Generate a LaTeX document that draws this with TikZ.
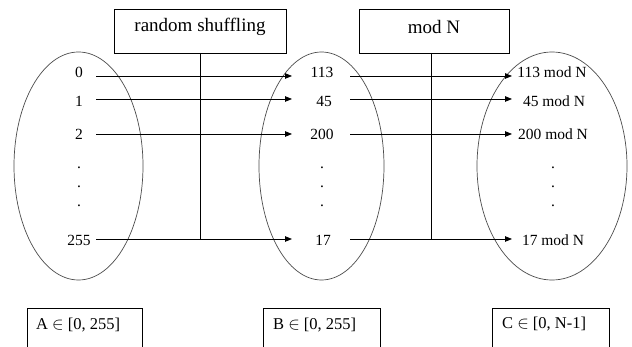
\documentclass[tikz,border=0pt]{standalone}
\usepackage{fontspec}
\setmainfont{Liberation Serif}
\usetikzlibrary{arrows.meta}
\begin{document}
\begin{tikzpicture}[x=1pt,y=-1pt,
  lbl/.style={inner sep=0pt,font=\fontsize{15.5}{18}\selectfont},
  boxtxt/.style={font=\fontsize{19}{22}\selectfont},
  setcirc/.style={draw=black!70,line width=0.7pt},
  opbox/.style={draw,line width=0.8pt},
  arr/.style={-{Triangle[length=7pt,width=5.5pt]},line width=0.8pt},
  vline/.style={line width=0.8pt}]
\useasboundingbox (0,0) rectangle (632,347);
\clip (0,0) rectangle (632,347);
\fill[white] (0,0) rectangle (632,347);
% sets
\draw[setcirc] (78.5,166) ellipse [x radius=64.5, y radius=114];
\draw[setcirc] (321.5,166) ellipse [x radius=62.5, y radius=114];
\draw[setcirc] (552,166) ellipse [x radius=75, y radius=114];
% operation boxes
\draw[opbox] (114,9) rectangle (286,53);
\node[boxtxt] (rs) at (200,27) {random shuffling};
\draw[opbox] (359,9) rectangle (509,53);
\node[boxtxt] (mn) at (434,27) {mod N};
% labels A
\node[lbl] (a0) at (79,72) {0};
\node[lbl] (a1) at (79,101) {1};
\node[lbl] (a2) at (79,134) {2};
\node[lbl] (ad1) at (79,168) {.};
\node[lbl] (ad2) at (79,187) {.};
\node[lbl] (ad3) at (79,206) {.};
\node[lbl] (a3) at (79,240) {255};
% labels B
\node[lbl] (b0) at (322,72) {113};
\node[lbl] (b1) at (324,101) {45};
\node[lbl] (b2) at (322,134) {200};
\node[lbl] (bd1) at (322,168) {.};
\node[lbl] (bd2) at (322,187) {.};
\node[lbl] (bd3) at (322,206) {.};
\node[lbl] (b3) at (323,240) {17};
% labels C
\node[lbl] (c0) at (552,72) {113 mod N};
\node[lbl] (c1) at (554,101) {45 mod N};
\node[lbl] (c2) at (553,134) {200 mod N};
\node[lbl] (cd1) at (553,168) {.};
\node[lbl] (cd2) at (553,187) {.};
\node[lbl] (cd3) at (553,206) {.};
\node[lbl] (c3) at (553,240) {17 mod N};
% arrow end coordinates
\foreach \i/\y in {0/76,1/99,2/134,3/239}{
  \coordinate (sa\i) at (96,\y);
  \coordinate (ea\i) at (292,\y);
  \coordinate (sb\i) at (350,\y);
  \coordinate (eb\i) at (512,\y);
}
\foreach \i in {0,1,2,3}{
  \draw[arr] (sa\i) -- (ea\i);
  \draw[arr] (sb\i) -- (eb\i);
}
\coordinate (rsb) at (200,53);
\coordinate (mnb) at (431,53);
\coordinate (rsj) at (200,239);
\coordinate (mnj) at (431,239);
\draw[vline] (rsb) -- (rsj);
\draw[vline] (mnb) -- (mnj);
% set boxes
\draw[opbox] (27,308) rectangle (142,360);
\node[lbl,anchor=west,font=\fontsize{16.5}{20}\selectfont] (la) at (36,325) {A $\in$ [0, 255]};
\draw[opbox] (263,308) rectangle (380,360);
\node[lbl,anchor=west,font=\fontsize{16.5}{20}\selectfont] (lb) at (273,325) {B $\in$ [0, 255]};
\draw[opbox] (492,308) rectangle (609,360);
\node[lbl,anchor=west,font=\fontsize{16.5}{20}\selectfont] (lc) at (502,324) {C $\in$ [0, N-1]};
\end{tikzpicture}
\end{document}
